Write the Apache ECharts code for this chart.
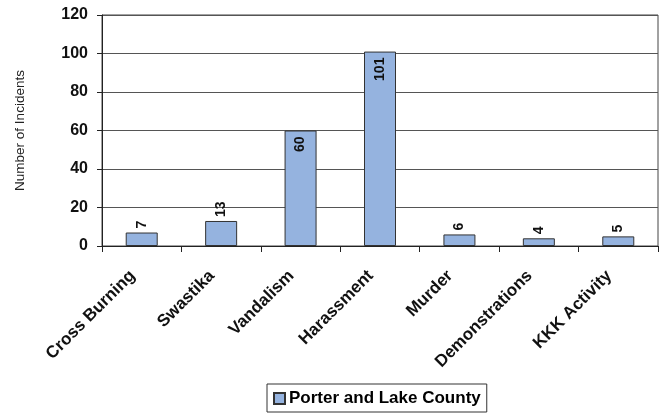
<!DOCTYPE html>
<html><head><meta charset="utf-8">
<script src="https://cdn.jsdelivr.net/npm/echarts@6/dist/echarts.min.js"></script>
<style>html,body{margin:0;padding:0;background:#fff}#c{width:668px;height:413px}</style>
</head><body><div id="c"></div>
<script>
const categories = ['Cross Burning','Swastika','Vandalism','Harassment','Murder','Demonstrations','KKK Activity'];
const values = [7, 13, 60, 101, 6, 4, 5];
const seriesName = 'Porter and Lake County';
const yTicks = {min: 0, max: 120, interval: 20};
const insideThreshold = 50;

const chart = echarts.init(document.getElementById('c'), null, {renderer: 'canvas'});
const font = 'Liberation Sans, Arial, sans-serif';
chart.setOption({
  animation: false,
  grid: {left: 102, right: 10, top: 15, bottom: 167, show: true, borderColor: '#444', borderWidth: 1, backgroundColor: 'transparent'},
  legend: {
    data: [seriesName], bottom: 1, left: 267,
    icon: 'rect', itemWidth: 11, itemHeight: 11, itemGap: 4,
    borderColor: '#333', borderWidth: 1, padding: [6, 6, 5, 6],
    textStyle: {fontFamily: font, fontWeight: 'bold', fontSize: 17, color: '#000', padding: [0, 0, 0, -1]}
  },
  xAxis: {
    type: 'category', data: categories,
    axisLine: {lineStyle: {color: '#222', width: 1}},
    axisTick: {show: true, length: 6, lineStyle: {color: '#222'}},
    axisLabel: {rotate: 45, interval: 0, margin: 18, padding: [0, 13, 0, 0], fontFamily: font, fontWeight: 'bold', fontSize: 17, color: '#111'}
  },
  yAxis: {
    type: 'value', min: yTicks.min, max: yTicks.max, interval: yTicks.interval,
    name: 'Number of Incidents', nameLocation: 'middle', nameGap: 75, nameRotate: 90,
    nameTextStyle: {fontFamily: font, fontSize: 13.5, color: '#222'},
    axisLine: {show: true, lineStyle: {color: '#222'}},
    axisTick: {show: true, length: 5, lineStyle: {color: '#222'}},
    splitLine: {lineStyle: {color: '#555', width: 1}},
    axisLabel: {margin: 14, fontFamily: font, fontWeight: 'bold', fontSize: 16, color: '#111'}
  },
  series: [{
    name: seriesName, type: 'bar', barWidth: 32,
    itemStyle: {color: '#95b3df', borderColor: '#333', borderWidth: 1},
    data: values.map(v => ({
      value: v,
      label: v > insideThreshold
        ? {show: true, position: 'insideTop', rotate: 90, align: 'right', verticalAlign: 'middle', distance: 6}
        : {show: true, position: 'top', rotate: 90, align: 'left', verticalAlign: 'middle', distance: 4}
    })),
    label: {fontFamily: font, fontWeight: 'bold', fontSize: 14, color: '#111'}
  }]
});
</script></body></html>
